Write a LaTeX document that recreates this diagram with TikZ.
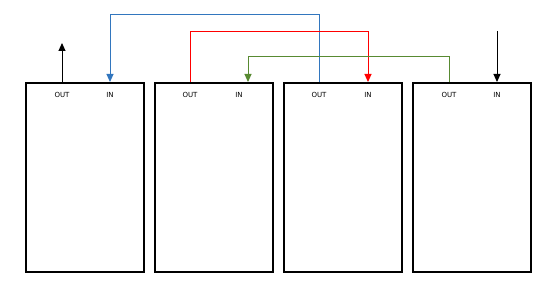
\documentclass[tikz,border=0pt]{standalone}
\usepackage{fontspec}
\setmainfont{DejaVu Sans}
\usetikzlibrary{positioning,arrows.meta}
\definecolor{linkblue}{RGB}{50,118,190}
\definecolor{linkred}{RGB}{255,0,0}
\definecolor{linkgreen}{RGB}{88,138,50}

\begin{document}
\begin{tikzpicture}[
        x=1pt, y=-1pt,
        node distance=9pt,
        unit/.style={draw, line width=2pt, minimum width=118pt,
                     minimum height=189pt, inner sep=0pt},
        port/.style={font=\fontsize{7}{8}\selectfont, inner sep=0pt},
        wire/.style={line width=1pt, -{Triangle[width=7pt,length=8pt]}}
    ]
        \useasboundingbox (0,0) rectangle (547,299);

        \node[unit] (u1) at (85,177.5) {};
        \node[unit, right=of u1] (u2) {};
        \node[unit, right=of u2] (u3) {};
        \node[unit, right=of u3] (u4) {};

        \node[port] (out1) at ([xshift=37pt,yshift=-13pt]u1.north west) {OUT};
        \node[port] (in1)  at ([xshift=85pt,yshift=-13pt]u1.north west) {IN};
        \node[port] (out2) at ([xshift=36pt,yshift=-13pt]u2.north west) {OUT};
        \node[port] (in2)  at ([xshift=85pt,yshift=-13pt]u2.north west) {IN};
        \node[port] (out3) at ([xshift=36pt,yshift=-13pt]u3.north west) {OUT};
        \node[port] (in3)  at ([xshift=85pt,yshift=-13pt]u3.north west) {IN};
        \node[port] (out4) at ([xshift=37pt,yshift=-13pt]u4.north west) {OUT};
        \node[port] (in4)  at ([xshift=85pt,yshift=-13pt]u4.north west) {IN};

        % port points on the top edges
        \coordinate (o1) at (out1 |- u1.north);
        \coordinate (i1) at (in1 |- u1.north);
        \coordinate (o2) at (out2 |- u2.north);
        \coordinate (i2) at ([xshift=9pt]in2 |- u2.north);
        \coordinate (o3) at (out3 |- u3.north);
        \coordinate (i3) at (in3 |- u3.north);
        \coordinate (o4) at (out4 |- u4.north);
        \coordinate (i4) at (in4 |- u4.north);

        \coordinate (outfree) at ([yshift=39pt]o1);
        \coordinate (infree)  at ([yshift=51pt]i4);
        \coordinate (bluetop)  at ([yshift=67pt]o3);
        \coordinate (redtop)   at ([yshift=50pt]o2);
        \coordinate (greentop) at ([yshift=25pt]o4);

        \draw[wire] (o1) -- (outfree);
        \draw[wire, linkblue]  (o3) -- (bluetop)  -| (i1);
        \draw[wire, linkred]   (o2) -- (redtop)   -| (i3);
        \draw[wire, linkgreen] (o4) -- (greentop) -| (i2);
        \draw[wire] (infree) -- (i4);
    \end{tikzpicture}
\end{document}
